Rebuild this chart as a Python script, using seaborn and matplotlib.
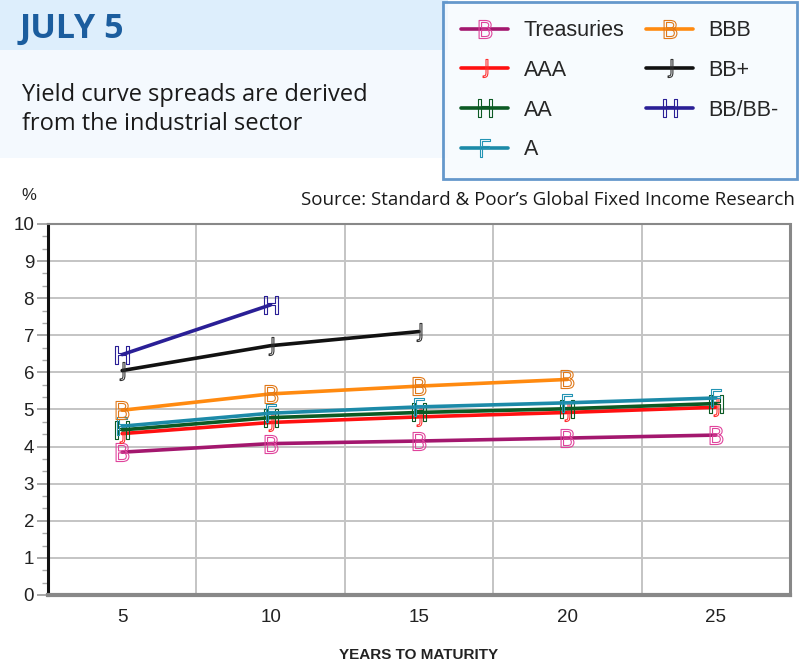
import numpy as np
import pandas as pd
import seaborn as sns
import matplotlib.pyplot as plt
from matplotlib.patches import Rectangle
from matplotlib.ticker import FixedLocator, MultipleLocator

# Data
years = [5, 10, 15, 20, 25]
treasuries = [3.85, 4.08, 4.15, 4.23, 4.31]
aaa = [4.35, 4.65, 4.80, 4.92, 5.06]
aa = [4.45, 4.78, 4.92, 5.02, 5.16]
a_rating = [4.55, 4.90, 5.07, 5.18, 5.31]
bbb = [4.98, 5.42, 5.63, 5.81]
bb_plus = [6.05, 6.72, 7.10]
bb_minus = [6.48, 7.82]

series_names = ['Treasuries', 'AAA', 'AA', 'A', 'BBB', 'BB+', 'BB/BB-']
series_values = [treasuries, aaa, aa, a_rating, bbb, bb_plus, bb_minus]
line_colors = ['#A3176E', '#FF1010', '#0C5A24', '#1C8AA8', '#FF8A10', '#111111', '#2A1F96']
marker_colors = ['#E0449C', '#FF3030', '#0C5A24', '#2394B4', '#E07818', '#333333', '#2A1F96']
marker_glyphs = [r'$\mathsf{B}$', r'$\mathsf{J}$', r'$\mathsf{H}$', r'$\mathsf{F}$',
                 r'$\mathsf{B}$', r'$\mathsf{J}$', r'$\mathsf{H}$']

sns.set_theme(style='white')
plt.rcParams['font.family'] = ['Liberation Sans', 'DejaVu Sans']

fig = plt.figure(figsize=(8, 6.68), dpi=100)

# header background bands
fig.add_artist(Rectangle((0, 0.925), 0.56, 0.075, transform=fig.transFigure,
                         facecolor='#DDEEFC', edgecolor='none', zorder=0))
fig.add_artist(Rectangle((0, 0.763), 0.56, 0.162, transform=fig.transFigure,
                         facecolor='#F4F9FE', edgecolor='none', zorder=0))

fig.text(0.024, 0.957, 'JULY 5', fontsize=24.5, fontweight='bold', color='#1B5D9E',
         family='Open Sans', va='center', ha='left')
fig.text(0.027, 0.836, 'Yield curve spreads are derived\nfrom the industrial sector',
         fontsize=17, color='#1a1a1a', family='Open Sans', va='center', ha='left',
         linespacing=1.25)

ax = fig.add_axes([0.06, 0.1093, 0.9275, 0.5554])

for name, vals, lc, mc, mk in zip(series_names, series_values, line_colors,
                                  marker_colors, marker_glyphs):
    sns.lineplot(x=years[:len(vals)], y=vals, ax=ax, color=lc, linewidth=2.6,
                 marker=mk, markersize=13, markerfacecolor='none',
                 markeredgecolor=mc, markeredgewidth=0.8, label=name, zorder=3)

ax.set_xlim(2.5, 27.5)
ax.set_ylim(0, 10)
ax.set_xticks(years)
ax.xaxis.set_minor_locator(FixedLocator([7.5, 12.5, 17.5, 22.5]))
ax.yaxis.set_major_locator(MultipleLocator(1))
ax.yaxis.set_minor_locator(MultipleLocator(1 / 3))
ax.grid(False)
ax.grid(axis='y', which='major', color='#C4C4C4', linewidth=1.4, zorder=0)
ax.grid(axis='x', which='minor', color='#C4C4C4', linewidth=1.4, zorder=0)
ax.set_axisbelow(True)

ax.tick_params(axis='x', which='both', length=0, labelsize=13.5, pad=10, colors='#222222')
ax.tick_params(axis='y', which='major', length=8, width=1.2, color='#999999',
               labelsize=13.5, pad=2, labelcolor='#222222', left=True)
ax.tick_params(axis='y', which='minor', length=4, width=1, color='#AAAAAA', left=True)

for side, col, lw in [('left', '#111111', 2.2), ('bottom', '#888888', 3),
                      ('top', '#888888', 1.5), ('right', '#888888', 2.2)]:
    ax.spines[side].set_visible(True)
    ax.spines[side].set_color(col)
    ax.spines[side].set_linewidth(lw)

ax.set_xlabel('YEARS TO MATURITY', fontsize=11, fontweight='bold', labelpad=16,
              color='#222222')
ax.set_ylabel('')
fig.text(0.027, 0.708, '%', fontsize=12, color='#222222', ha='left', va='center')
fig.text(0.994, 0.7, 'Source: Standard & Poor\u2019s Global Fixed Income Research',
         fontsize=13.5, family='Open Sans', color='#1a1a1a', ha='right', va='center')

handles, labels = ax.get_legend_handles_labels()
ax.legend_.remove()
leg = fig.legend(handles, labels, ncol=2, loc='upper right',
                 bbox_to_anchor=(0.996, 0.997),
                 fontsize=15.5, frameon=True, fancybox=False, borderaxespad=0,
                 handlelength=2.2, handletextpad=0.7, columnspacing=1.0,
                 labelspacing=0.87, borderpad=0.85)
leg.get_frame().set_edgecolor('#3F7FBF')
leg.get_frame().set_linewidth(2)
leg.get_frame().set_facecolor('#F6FAFE')

fig.savefig('out.png', dpi=100)
